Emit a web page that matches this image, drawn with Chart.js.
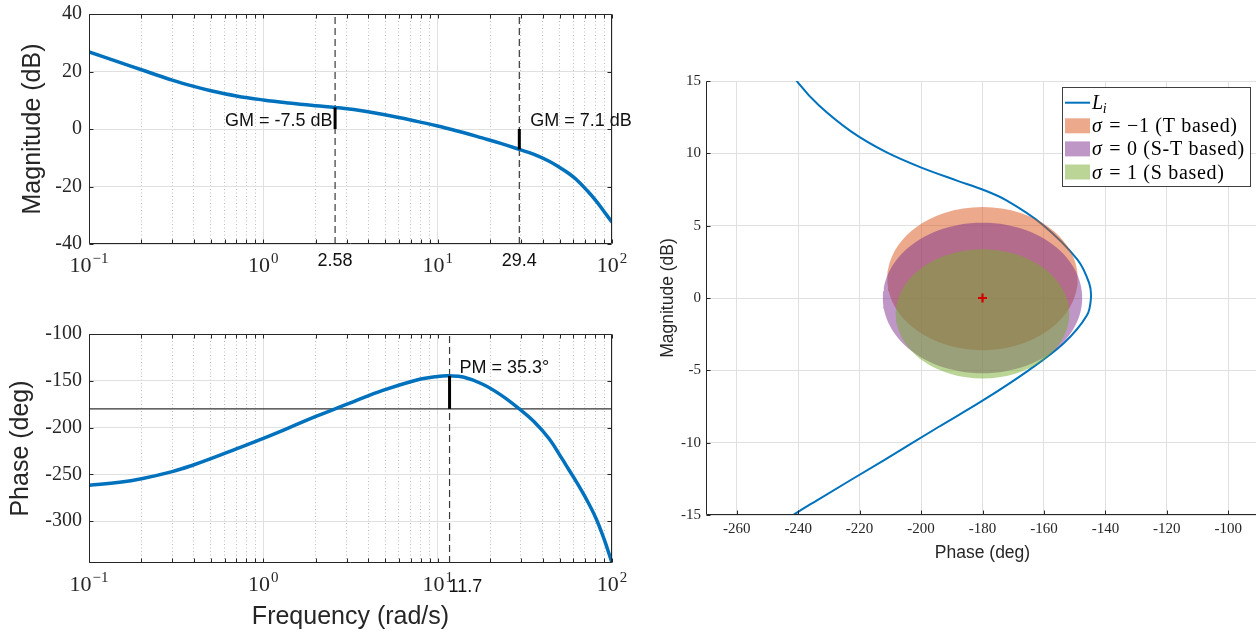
<!DOCTYPE html>
<html>
<head>
<meta charset="utf-8">
<script src="https://cdn.jsdelivr.net/npm/chart.js@4.4.1/dist/chart.umd.min.js"></script>
<style>
  html, body { margin: 0; padding: 0; background: #fff; overflow: hidden; width: 1256px; height: 637px; }
  canvas { position: absolute; display: block; }
</style>
</head>
<body>
<canvas id="mag" width="640" height="300" style="left:0;top:0"></canvas>
<canvas id="phase" width="640" height="337" style="left:0;top:300px"></canvas>
<canvas id="nichols" width="619" height="637" style="left:640px;top:0"></canvas>
<script>
// ---- Loop frequency response L_i(jw): frequency (rad/s), gain (dB), phase (deg)
const freq     = [0.1, 0.15, 0.2, 0.3, 0.4, 0.5, 0.7, 1, 1.4, 2, 2.58, 3.3, 4.8, 7.6, 10, 11.7, 14, 18, 23, 29.4, 36, 43.6, 52, 56, 62, 72, 81, 90, 100];
const magDb    = [26.8, 23.2, 20.6, 17.0, 14.8, 13.3, 11.5, 10.1, 9.05, 8.1, 7.5, 6.75, 5.1, 2.66, 1.04, 0, -1.2, -3.1, -5.0, -7.1, -8.9, -11.2, -14.0, -15.3, -17.4, -21.4, -25.0, -28.7, -32.4];
const phaseDeg = [-261.7, -258.4, -254.6, -247.0, -239.7, -233.2, -222.7, -211.5, -200.3, -188.1, -180, -172.2, -160.6, -149.1, -145.3, -144.7, -146.0, -153.4, -165.0, -180, -194.2, -212, -234.0, -243.7, -256.9, -278, -297.1, -319, -344.5];

// ---- Stability margins
const phaseCrossFreq = [2.58, 29.4];   // rad/s
const gainMarginDb   = [-7.5, 7.1];    // dB
const gainCrossFreq  = 11.7;           // rad/s
const phaseMarginDeg = 35.3;           // deg

// ---- Axis ticks
const decades       = [0.1, 1, 10, 100];
const minorSteps    = [2, 3, 4, 5, 6, 7, 8, 9];
const magTicks      = [-40, -20, 0, 20, 40];
const phaseTicks    = [-300, -250, -200, -150, -100];
const nicPhaseTicks = [-260, -240, -220, -200, -180, -160, -140, -120, -100];
const nicMagTicks   = [-15, -10, -5, 0, 5, 10, 15];

// ---- Disk-margin exclusion regions (skew sigma, disk size alpha)
const skews         = [-1, 0, 1];
const diskAlpha     = [0.515, 0.582, 0.473];
const regionLabels  = ['σ = −1 (T based)', 'σ = 0 (S-T based)', 'σ = 1 (S based)'];
const curveLabel    = 'L_i';
const criticalPoint = { phase: -180, mag: 0 };

// ---- Styling
const INK = '#262626';
const BLUE = '#0072BD';
const regionFill = ['rgba(217,83,25,0.5)', 'rgba(126,47,142,0.5)', 'rgba(119,172,48,0.5)'];
const SERIF = '"Liberation Serif", "Times New Roman", serif';
const SANS = '"Liberation Sans", Arial, sans-serif';

Chart.defaults.font.family = SANS;
Chart.defaults.color = INK;

const freqGrid = decades.concat(decades.slice(0, -1).flatMap(d => minorSteps.map(m => +(m * d).toPrecision(3))))
  .sort((a, b) => a - b);
const isDecade = v => Math.abs(Math.log10(v) - Math.round(Math.log10(v))) < 1e-9;
const crisp = v => Math.round(v) + 0.5;
const noPad = s => { s.paddingLeft = 0; s.paddingRight = 0; s.paddingTop = 0; s.paddingBottom = 0; };

// Axes box with inward tick marks
const frame = {
  id: 'frame',
  afterDatasetsDraw(chart, args, o) {
    const { ctx, chartArea: a, scales: { x, y } } = chart;
    const L = o.tickLen || 4;
    const l = crisp(a.left), r = crisp(a.right - 1), t = crisp(a.top), b = crisp(a.bottom - 1);
    ctx.save();
    ctx.strokeStyle = INK;
    ctx.lineWidth = 1;
    ctx.beginPath();
    x.ticks.forEach(tk => {
      const px = crisp(x.getPixelForValue(tk.value));
      ctx.moveTo(px, b); ctx.lineTo(px, b - L);
      if (o.box) { ctx.moveTo(px, t); ctx.lineTo(px, t + L); }
    });
    y.ticks.forEach(tk => {
      const py = crisp(y.getPixelForValue(tk.value));
      ctx.moveTo(l, py); ctx.lineTo(l + L, py);
      if (o.box) { ctx.moveTo(r, py); ctx.lineTo(r - L, py); }
    });
    ctx.stroke();
    ctx.beginPath();
    if (o.box) {
      ctx.rect(l, t, r - l, b - t);
    } else {
      ctx.moveTo(l, t); ctx.lineTo(l, b); ctx.lineTo(r + 2, b);
    }
    ctx.stroke();
    ctx.restore();
  }
};

// Decade labels 10^n, crossover frequency labels and margin notes
const bodeText = {
  id: 'bodeText',
  afterDraw(chart, args, o) {
    const { ctx, chartArea: a, scales: { x, y } } = chart;
    ctx.save();
    ctx.fillStyle = INK;
    ctx.textBaseline = 'alphabetic';
    ctx.textAlign = 'left';
    const base = a.bottom + 28;
    decades.forEach(d => {
      const e = Math.round(Math.log10(d));
      const es = e < 0 ? '\u2212' + (-e) : String(e);
      ctx.font = '22px ' + SERIF; const wb = ctx.measureText('10').width;
      ctx.font = '15px ' + SERIF; const we = ctx.measureText(es).width;
      const x0 = x.getPixelForValue(d) - (wb + 1 + we) / 2;
      ctx.font = '22px ' + SERIF; ctx.fillText('10', x0, base);
      ctx.font = '15px ' + SERIF; ctx.fillText(es, x0 + wb + 1, base - 9);
    });
    ctx.fillStyle = '#111';
    ctx.font = '18px ' + SANS;
    (o.freqLabels || []).forEach(f => {
      ctx.textAlign = f.align;
      ctx.fillText(f.text, x.getPixelForValue(f.value) + (f.dx || 0), a.bottom + f.dy);
    });
    (o.notes || []).forEach(n => {
      ctx.textAlign = n.align;
      ctx.fillText(n.text, x.getPixelForValue(n.x) + n.dx, y.getPixelForValue(n.y) + n.dy);
    });
    ctx.restore();
  }
};

function curveData(ys) { return freq.map((w, i) => ({ x: w, y: ys[i] })); }
function segment(p0, p1, color, width, dash) {
  return { data: [p0, p1], borderColor: color, borderWidth: width, borderDash: dash || [], pointRadius: 0, fill: false };
}

function freqAxis(height, title, titlePad) {
  return {
    type: 'logarithmic', min: 0.1, max: 100,
    afterBuildTicks: s => { s.ticks = freqGrid.map(v => ({ value: v })); },
    afterFit: s => { s.height = height; noPad(s); },
    ticks: { display: false },
    grid: {
      drawTicks: false, lineWidth: 1,
      color: c => (c.tick && !isDecade(c.tick.value)) ? 'rgba(38,38,38,0.3)' : '#e0e0e0'
    },
    border: { display: false, dash: c => (c.tick && !isDecade(c.tick.value)) ? [1, 2.5] : [] },
    title: title ? { display: true, text: title, font: { size: 25 }, color: INK, padding: { top: 0, bottom: titlePad } } : { display: false }
  };
}
function valueAxis(min, max, ticks, title, titlePad) {
  return {
    type: 'linear', min, max,
    afterBuildTicks: s => { s.ticks = ticks.map(v => ({ value: v })); },
    afterFit: s => { s.width = 89; noPad(s); },
    ticks: { font: { family: SERIF, size: 20 }, color: INK, padding: 7, callback: v => String(v) },
    grid: { drawTicks: false, color: '#e0e0e0', lineWidth: 1 },
    border: { display: false },
    title: { display: true, text: title, font: { size: 25 }, color: INK, padding: { top: titlePad, bottom: 0 } }
  };
}

// ---- Gain plot
const magLo = magTicks[0], magHi = magTicks[magTicks.length - 1];
new Chart(document.getElementById('mag'), {
  type: 'line',
  data: {
    datasets: [
      ...phaseCrossFreq.map((w, i) => segment({ x: w, y: 0 }, { x: w, y: -gainMarginDb[i] }, '#000', 3)),
      { data: curveData(magDb), borderColor: BLUE, borderWidth: 3.5, pointRadius: 0, tension: 0.4, fill: false },
      ...phaseCrossFreq.map(w => segment({ x: w, y: magLo }, { x: w, y: magHi }, '#3a3a3a', 1.2, [7, 4]))
    ]
  },
  options: {
    responsive: false, animation: false, events: [],
    layout: { autoPadding: false, padding: { left: 0, right: 28, top: 14, bottom: 0 } },
    plugins: {
      legend: { display: false }, tooltip: { enabled: false },
      frame: { box: true, tickLen: 4 },
      bodeText: {
        freqLabels: phaseCrossFreq.map(w => ({ value: w, text: String(w), align: 'center', dy: 22 })),
        notes: phaseCrossFreq.map((w, i) => ({
          x: w, y: 0, text: 'GM = ' + gainMarginDb[i] + ' dB',
          align: i === 0 ? 'right' : 'left', dx: i === 0 ? -2.5 : 11, dy: -3
        }))
      }
    },
    scales: { x: freqAxis(56), y: valueAxis(magLo, magHi, magTicks, 'Magnitude (dB)', 18) }
  },
  plugins: [frame, bodeText]
});

// ---- Phase plot
const phaseLo = -344.7, phaseHi = -100;
const pmPhase = -180 + phaseMarginDeg;
new Chart(document.getElementById('phase'), {
  type: 'line',
  data: {
    datasets: [
      segment({ x: gainCrossFreq, y: -180 }, { x: gainCrossFreq, y: pmPhase }, '#000', 3),
      { data: curveData(phaseDeg), borderColor: BLUE, borderWidth: 3.5, pointRadius: 0, tension: 0.4, fill: false },
      segment({ x: gainCrossFreq, y: phaseLo }, { x: gainCrossFreq, y: phaseHi }, '#3a3a3a', 1.2, [7, 4]),
      segment({ x: 0.1, y: -180 }, { x: 100, y: -180 }, '#333', 1.3)
    ]
  },
  options: {
    responsive: false, animation: false, events: [],
    layout: { autoPadding: false, padding: { left: 0, right: 28, top: 34, bottom: 0 } },
    plugins: {
      legend: { display: false }, tooltip: { enabled: false },
      frame: { box: true, tickLen: 4 },
      bodeText: {
        freqLabels: [{ value: gainCrossFreq, text: String(gainCrossFreq), align: 'left', dx: -1, dy: 28.5 }],
        notes: [{ x: gainCrossFreq, y: pmPhase, text: 'PM = ' + phaseMarginDeg + '°', align: 'left', dx: 10, dy: -3 }]
      }
    },
    scales: { x: freqAxis(74, 'Frequency (rad/s)', 5), y: valueAxis(phaseLo, phaseHi, phaseTicks, 'Phase (deg)', 6) }
  },
  plugins: [frame, bodeText]
});

// ---- Nichols plot with disk-margin regions
function diskBoundary(sigma, alpha) {
  const pts = [];
  for (let k = 0; k <= 120; k++) {
    const th = 2 * Math.PI * k / 120;
    const dr = alpha * Math.cos(th), di = alpha * Math.sin(th);
    // L = -(1 - (1+s)/2 d) / (1 + (1-s)/2 d)
    const a = 1 - (1 + sigma) / 2 * dr, b = -(1 + sigma) / 2 * di;
    const c = 1 + (1 - sigma) / 2 * dr, d = (1 - sigma) / 2 * di;
    const den = c * c + d * d;
    const re = -(a * c + b * d) / den, im = -(b * c - a * d) / den;
    let ph = Math.atan2(im, re) * 180 / Math.PI;
    if (ph > 0) ph -= 360;
    pts.push({ x: ph, y: 20 * Math.log10(Math.hypot(re, im)) });
  }
  return pts;
}

function drawMathLabel(ctx, label, x, y) {
  const size = 20;
  const it = 'italic ' + size + 'px ' + SERIF, up = size + 'px ' + SERIF;
  if ('letterSpacing' in ctx) ctx.letterSpacing = '0.7px';
  if (label.includes('_')) {
    const [m, s] = label.split('_');
    ctx.font = it; ctx.fillText(m, x, y);
    const w = ctx.measureText(m).width;
    ctx.font = 'italic 14px ' + SERIF; ctx.fillText(s, x + w - 1, y + 4);
  } else {
    const head = label[0], rest = label.slice(1);
    ctx.font = it; ctx.fillText(head, x, y);
    const w = ctx.measureText(head).width;
    ctx.font = up; ctx.fillText(rest, x + w + 1, y);
  }
}

const legendBox = {
  id: 'legendBox',
  afterDraw(chart) {
    const { ctx, chartArea: a } = chart;
    const items = chart.data.datasets.filter(ds => ds.label).sort((p, q) => p.legendIndex - q.legendIndex);
    const w = 188, h = 99, rowH = 23.1;
    const x0 = Math.round(a.right - 9 - w), y0 = Math.round(a.top + 6);
    ctx.save();
    ctx.fillStyle = '#fff';
    ctx.fillRect(x0, y0, w, h);
    ctx.strokeStyle = '#404040'; ctx.lineWidth = 1;
    ctx.strokeRect(x0 + 0.5, y0 + 0.5, w, h);
    ctx.textBaseline = 'alphabetic'; ctx.textAlign = 'left';
    items.forEach((ds, i) => {
      const cy = y0 + 15.7 + i * rowH, sx = x0 + 3;
      if (ds.fill === 'shape') {
        ctx.fillStyle = ds.backgroundColor;
        ctx.fillRect(sx, cy - 7.5, 25, 15);
      } else {
        ctx.strokeStyle = ds.borderColor; ctx.lineWidth = 2;
        ctx.beginPath(); ctx.moveTo(sx, cy); ctx.lineTo(sx + 25, cy); ctx.stroke();
      }
      ctx.fillStyle = '#000';
      drawMathLabel(ctx, ds.label, sx + 27, cy + 6.5);
    });
    ctx.restore();
  }
};

new Chart(document.getElementById('nichols'), {
  type: 'line',
  data: {
    datasets: [
      { label: curveLabel, legendIndex: 0, order: 5, data: freq.map((w, i) => ({ x: phaseDeg[i], y: magDb[i] })),
        borderColor: BLUE, borderWidth: 2, pointRadius: 0, tension: 0.35, fill: false },
      ...skews.map((s, i) => ({
        label: regionLabels[i], legendIndex: i + 1, order: 4 - i, data: diskBoundary(s, diskAlpha[i]),
        fill: 'shape', backgroundColor: regionFill[i], borderColor: 'rgba(0,0,0,0)', borderWidth: 0, pointRadius: 0, tension: 0
      })),
      { type: 'scatter', order: 0, data: [{ x: criticalPoint.phase, y: criticalPoint.mag }],
        pointStyle: 'cross', pointRadius: 4.5, borderColor: '#d40000', borderWidth: 2.2, showLine: false }
    ]
  },
  options: {
    responsive: false, animation: false, events: [],
    layout: { autoPadding: false, padding: { left: 0, right: 0, top: 81, bottom: 0 } },
    plugins: { legend: { display: false }, tooltip: { enabled: false }, frame: { box: false, tickLen: 4 } },
    scales: {
      x: {
        type: 'linear', min: -270, max: -90,
        afterBuildTicks: s => { s.ticks = nicPhaseTicks.map(v => ({ value: v })); },
        afterFit: s => { s.height = 122; noPad(s); },
        ticks: { font: { family: SERIF, size: 15 }, color: INK, padding: 5, maxRotation: 0, callback: v => String(v) },
        grid: { drawTicks: false, color: '#e0e0e0' },
        border: { display: false },
        title: { display: true, text: 'Phase (deg)', font: { size: 17.5 }, color: INK, padding: { top: 0, bottom: 73.5 } }
      },
      y: {
        type: 'linear', min: -15, max: 15,
        afterBuildTicks: s => { s.ticks = nicMagTicks.map(v => ({ value: v })); },
        afterFit: s => { s.width = 66; noPad(s); },
        ticks: { font: { family: SERIF, size: 15 }, color: INK, padding: 5, callback: v => String(v) },
        grid: { drawTicks: false, color: '#e0e0e0' },
        border: { display: false },
        title: { display: true, text: 'Magnitude (dB)', font: { size: 17.5 }, color: INK, padding: { top: 17.5, bottom: 0 } }
      }
    }
  },
  plugins: [frame, legendBox]
});
</script>
</body>
</html>
